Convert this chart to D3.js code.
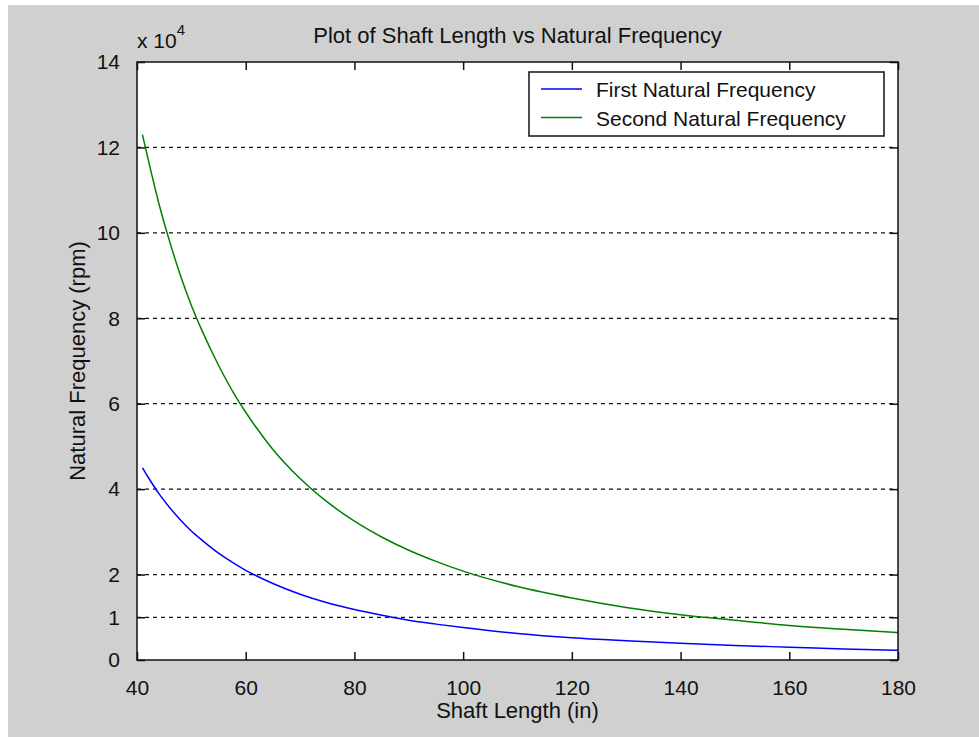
<!DOCTYPE html>
<html>
<head>
<meta charset="utf-8">
<script src="https://cdn.jsdelivr.net/npm/d3@7"></script>
<style>
  body { margin: 0; background: #fff; }
  text { font-family: "Liberation Sans", Arial, sans-serif; fill: #111; }
</style>
</head>
<body>
<div id="chart"></div>
<script>
// Shaft length (in) vs natural frequency (rpm)
const shaftLength = [41, 42, 44, 46, 48, 50, 52, 55, 58, 60, 65, 70, 75, 80, 85, 90, 95, 100, 110, 120, 130, 140, 150, 160, 170, 180];
const firstFreq = [45000, 42900, 39000, 35700, 32800, 30200, 28000, 25000, 22500, 21000, 17900, 15400, 13400, 11800, 10500, 9300, 8400, 7600, 6200, 5200, 4500, 3900, 3400, 3000, 2600, 2300];
const secondFreq = [123000, 117500, 107000, 98000, 90000, 83000, 77000, 69000, 62000, 58000, 49300, 42500, 37000, 32500, 28800, 25700, 23100, 20800, 17200, 14500, 12300, 10600, 9300, 8100, 7200, 6400];

const seriesNames = ["First Natural Frequency", "Second Natural Frequency"];
const seriesColors = ["#0000ff", "#008000"];

const xTicks = [40, 60, 80, 100, 120, 140, 160, 180];
const yTicks = [0, 1, 2, 4, 6, 8, 10, 12, 14];   // in units of 10^4
const yGrid = [1, 2, 4, 6, 8, 10, 12];

// Figure and axes box
const W = 979, H = 737;
const margin = { top: 62, right: 81, bottom: 77, left: 137 },
    width = W - margin.left - margin.right,
    height = H - margin.top - margin.bottom;

const root = d3.select("#chart")
    .append("svg")
    .attr("width", W)
    .attr("height", H);

// grey figure background
root.append("rect")
    .attr("x", 8).attr("y", 5)
    .attr("width", W - 8).attr("height", H - 5)
    .attr("fill", "#d0d0d0");

const svg = root.append("g")
    .attr("transform", `translate(${margin.left},${margin.top})`);

svg.append("rect")
    .attr("width", width)
    .attr("height", height)
    .attr("fill", "#fff");

const x = d3.scaleLinear().domain([40, 180]).range([0, width]);
const y = d3.scaleLinear().domain([0, 140000]).range([height, 0]);

// dashed horizontal grid
svg.append("g")
    .selectAll("line")
    .data(yGrid)
    .join("line")
    .attr("x1", 0)
    .attr("x2", width)
    .attr("y1", d => y(d * 1e4))
    .attr("y2", d => y(d * 1e4))
    .attr("stroke", "#111")
    .attr("stroke-width", 1.3)
    .attr("stroke-dasharray", "4,4");

// the two curves
const line = d3.line()
    .x(d => x(d[0]))
    .y(d => y(d[1]))
    .curve(d3.curveMonotoneX);

[firstFreq, secondFreq].forEach((vals, i) => {
    svg.append("path")
        .datum(shaftLength.map((L, j) => [L, vals[j]]))
        .attr("fill", "none")
        .attr("stroke", seriesColors[i])
        .attr("stroke-width", 1.5)
        .attr("d", line);
});

// axes with inward ticks, on all four sides
const tickLen = 8;
const bottomAxis = svg.append("g")
    .attr("transform", `translate(0,${height})`)
    .call(d3.axisBottom(x).tickValues(xTicks).tickSizeInner(-tickLen).tickSizeOuter(0).tickPadding(tickLen + 12));
svg.append("g")
    .call(d3.axisTop(x).tickValues(xTicks).tickSizeInner(-tickLen).tickSizeOuter(0).tickFormat(""));
const leftAxis = svg.append("g")
    .call(d3.axisLeft(y).tickValues(yTicks.map(v => v * 1e4)).tickSizeInner(-tickLen).tickSizeOuter(0)
        .tickPadding(tickLen + 9).tickFormat(d => d / 1e4));
svg.append("g")
    .attr("transform", `translate(${width},0)`)
    .call(d3.axisRight(y).tickValues(yTicks.map(v => v * 1e4)).tickSizeInner(-tickLen).tickSizeOuter(0).tickFormat(""));

svg.selectAll(".domain").remove();
svg.selectAll(".tick line").attr("stroke", "#111").attr("stroke-width", 1.5);
svg.selectAll(".tick text")
    .style("font-family", "'Liberation Sans', Arial, sans-serif")
    .style("font-size", "21px")
    .attr("fill", "#111");

// axes box
svg.append("rect")
    .attr("width", width)
    .attr("height", height)
    .attr("fill", "none")
    .attr("stroke", "#111")
    .attr("stroke-width", 1.5);

// exponent label
const expo = svg.append("text")
    .attr("x", 0)
    .attr("y", -14)
    .style("font-size", "21px");
expo.append("tspan").text("x 10");
expo.append("tspan").attr("dy", -13).style("font-size", "15px").text("4");

// title and axis labels
svg.append("text")
    .attr("x", width / 2)
    .attr("y", -19)
    .attr("text-anchor", "middle")
    .style("font-size", "22px")
    .text("Plot of Shaft Length vs Natural Frequency");

svg.append("text")
    .attr("x", width / 2)
    .attr("y", height + 58)
    .attr("text-anchor", "middle")
    .style("font-size", "22px")
    .text("Shaft Length (in)");

svg.append("text")
    .attr("transform", `translate(${85 - margin.left},${height / 2}) rotate(-90)`)
    .attr("text-anchor", "middle")
    .style("font-size", "22px")
    .text("Natural Frequency (rpm)");

// legend
const lgX = 529 - margin.left, lgY = 72 - margin.top;
const legend = svg.append("g").attr("transform", `translate(${lgX},${lgY})`);
legend.append("rect")
    .attr("width", 355)
    .attr("height", 64)
    .attr("fill", "#fff")
    .attr("stroke", "#111")
    .attr("stroke-width", 1.5);
seriesNames.forEach((name, i) => {
    const cy = 17 + i * 28.5;
    legend.append("line")
        .attr("x1", 12).attr("x2", 53)
        .attr("y1", cy).attr("y2", cy)
        .attr("stroke", seriesColors[i])
        .attr("stroke-width", 1.5);
    legend.append("text")
        .attr("x", 67)
        .attr("y", cy + 8)
        .style("font-size", "21px")
        .text(name);
});
</script>
</body>
</html>
